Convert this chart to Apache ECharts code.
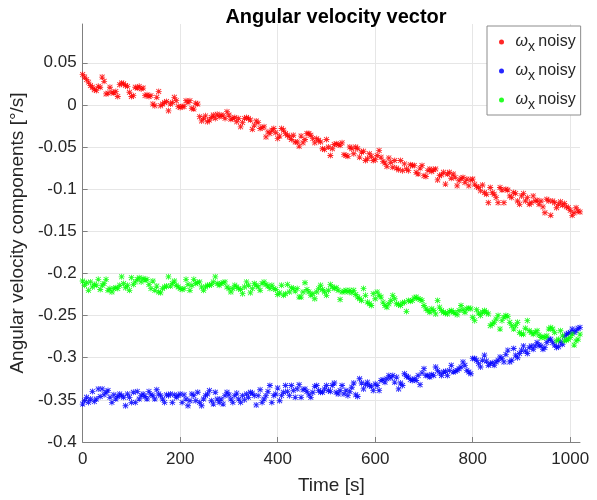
<!DOCTYPE html>
<html>
<head>
<meta charset="utf-8">
<script src="https://cdn.jsdelivr.net/npm/echarts@6/dist/echarts.min.js"></script>
<style>
  html, body { margin: 0; padding: 0; background: #fff; }
  #chart { width: 597px; height: 500px; }
</style>
</head>
<body>
<div id="chart"></div>
<script>
// Sample times [s]
const timeSec = [
  0,4,8,12,16,20,24,28,32,36,40,44,48,52,56,60,64,68,72,76,
  80,84,88,92,96,100,104,108,112,116,120,124,128,132,136,140,144,148,152,156,
  160,164,168,172,176,180,184,188,192,196,200,204,208,212,216,220,224,228,232,236,
  240,244,248,252,256,260,264,268,272,276,280,284,288,292,296,300,304,308,312,316,
  320,324,328,332,336,340,344,348,352,356,360,364,368,372,376,380,384,388,392,396,
  400,404,408,412,416,420,424,428,432,436,440,444,448,452,456,460,464,468,472,476,
  480,484,488,492,496,500,504,508,512,516,520,524,528,532,536,540,544,548,552,556,
  560,564,568,572,576,580,584,588,592,596,600,604,608,612,616,620,624,628,632,636,
  640,644,648,652,656,660,664,668,672,676,680,684,688,692,696,700,704,708,712,716,
  720,724,728,732,736,740,744,748,752,756,760,764,768,772,776,780,784,788,792,796,
  800,804,808,812,816,820,824,828,832,836,840,844,848,852,856,860,864,868,872,876,
  880,884,888,892,896,900,904,908,912,916,920,924,928,932,936,940,944,948,952,956,
  960,964,968,972,976,980,984,988,992,996,1000,1004,1008,1012,1016,1020
];

// Noisy angular velocity components [°/s]
const omegaRed = [
  0.036,0.033,0.030,0.027,0.023,0.021,0.018,0.017,0.022,0.021,
  0.033,0.028,0.013,0.014,0.021,0.015,0.014,0.016,0.010,0.024,
  0.026,0.025,0.023,0.022,0.015,0.010,0.011,0.021,0.020,0.022,
  0.019,0.020,0.011,0.012,0.010,0.011,0.001,-0.001,0.009,0.016,
  -0.001,0.001,0.003,0.004,-0.007,0.001,0.003,0.009,0.005,-0.002,
  -0.003,-0.002,-0.002,0.005,0.003,0.005,-0.004,-0.005,0.002,0.001,
  -0.014,-0.019,-0.016,-0.013,-0.020,-0.018,-0.015,-0.012,-0.016,-0.011,
  -0.014,-0.012,-0.013,-0.016,-0.008,-0.012,-0.017,-0.016,-0.015,-0.020,
  -0.016,-0.026,-0.021,-0.016,-0.015,-0.016,-0.018,-0.029,-0.024,-0.019,
  -0.021,-0.028,-0.027,-0.026,-0.038,-0.032,-0.034,-0.030,-0.028,-0.033,
  -0.040,-0.037,-0.028,-0.030,-0.034,-0.036,-0.038,-0.041,-0.036,-0.044,
  -0.044,-0.049,-0.037,-0.045,-0.041,-0.034,-0.034,-0.036,-0.040,-0.045,
  -0.040,-0.042,-0.044,-0.052,-0.053,-0.041,-0.050,-0.060,-0.052,-0.047,
  -0.046,-0.047,-0.048,-0.045,-0.059,-0.060,-0.061,-0.050,-0.052,-0.058,
  -0.050,-0.052,-0.062,-0.056,-0.055,-0.066,-0.064,-0.058,-0.061,-0.066,
  -0.065,-0.060,-0.054,-0.062,-0.067,-0.069,-0.073,-0.063,-0.068,-0.074,
  -0.066,-0.075,-0.077,-0.066,-0.078,-0.070,-0.076,-0.078,-0.071,-0.072,
  -0.072,-0.080,-0.082,-0.075,-0.072,-0.084,-0.085,-0.078,-0.076,-0.079,
  -0.077,-0.076,-0.089,-0.084,-0.083,-0.080,-0.094,-0.082,-0.080,-0.087,
  -0.082,-0.086,-0.096,-0.090,-0.087,-0.086,-0.092,-0.088,-0.096,-0.089,
  -0.088,-0.094,-0.097,-0.098,-0.102,-0.095,-0.104,-0.106,-0.116,-0.098,
  -0.104,-0.106,-0.110,-0.116,-0.098,-0.101,-0.116,-0.100,-0.101,-0.108,
  -0.110,-0.104,-0.105,-0.114,-0.118,-0.108,-0.105,-0.114,-0.110,-0.118,
  -0.116,-0.108,-0.114,-0.113,-0.118,-0.114,-0.121,-0.128,-0.112,-0.114,
  -0.131,-0.114,-0.116,-0.122,-0.118,-0.115,-0.119,-0.117,-0.121,-0.122,
  -0.125,-0.131,-0.128,-0.122,-0.126,-0.127
];

const omegaBlue = [
  -0.355,-0.351,-0.347,-0.353,-0.349,-0.340,-0.352,-0.349,-0.337,-0.346,
  -0.337,-0.344,-0.341,-0.339,-0.347,-0.353,-0.344,-0.349,-0.346,-0.343,
  -0.345,-0.347,-0.357,-0.343,-0.347,-0.353,-0.341,-0.353,-0.340,-0.349,
  -0.345,-0.343,-0.346,-0.349,-0.340,-0.344,-0.345,-0.349,-0.338,-0.343,
  -0.345,-0.349,-0.353,-0.344,-0.345,-0.343,-0.353,-0.344,-0.347,-0.345,
  -0.343,-0.353,-0.344,-0.349,-0.357,-0.351,-0.343,-0.345,-0.351,-0.341,
  -0.353,-0.357,-0.349,-0.345,-0.343,-0.339,-0.351,-0.355,-0.341,-0.349,
  -0.353,-0.349,-0.355,-0.345,-0.341,-0.344,-0.349,-0.353,-0.345,-0.342,
  -0.349,-0.353,-0.345,-0.350,-0.343,-0.347,-0.341,-0.342,-0.345,-0.356,
  -0.345,-0.338,-0.353,-0.349,-0.345,-0.340,-0.333,-0.353,-0.345,-0.343,
  -0.336,-0.351,-0.345,-0.341,-0.333,-0.340,-0.345,-0.333,-0.339,-0.347,
  -0.337,-0.332,-0.347,-0.338,-0.337,-0.340,-0.344,-0.347,-0.341,-0.334,
  -0.333,-0.339,-0.341,-0.341,-0.337,-0.333,-0.339,-0.340,-0.333,-0.330,
  -0.341,-0.343,-0.339,-0.333,-0.343,-0.339,-0.345,-0.340,-0.335,-0.330,
  -0.344,-0.346,-0.325,-0.330,-0.337,-0.332,-0.329,-0.333,-0.334,-0.339,
  -0.331,-0.333,-0.339,-0.327,-0.326,-0.329,-0.325,-0.321,-0.324,-0.321,
  -0.329,-0.323,-0.337,-0.330,-0.333,-0.319,-0.322,-0.323,-0.326,-0.327,
  -0.325,-0.327,-0.321,-0.332,-0.318,-0.313,-0.321,-0.321,-0.323,-0.320,
  -0.321,-0.311,-0.315,-0.318,-0.321,-0.317,-0.316,-0.321,-0.315,-0.309,
  -0.317,-0.316,-0.315,-0.313,-0.311,-0.305,-0.309,-0.315,-0.317,-0.319,
  -0.301,-0.301,-0.303,-0.307,-0.311,-0.303,-0.297,-0.304,-0.309,-0.307,
  -0.306,-0.309,-0.305,-0.303,-0.299,-0.301,-0.305,-0.296,-0.291,-0.305,
  -0.303,-0.289,-0.297,-0.300,-0.295,-0.291,-0.286,-0.292,-0.295,-0.288,
  -0.286,-0.290,-0.286,-0.282,-0.285,-0.286,-0.290,-0.288,-0.282,-0.278,
  -0.278,-0.282,-0.285,-0.288,-0.287,-0.281,-0.284,-0.275,-0.272,-0.271,
  -0.270,-0.266,-0.270,-0.268,-0.265,-0.264
];

const omegaGreen = [
  -0.209,-0.214,-0.211,-0.220,-0.210,-0.216,-0.213,-0.214,-0.207,-0.219,
  -0.214,-0.212,-0.207,-0.220,-0.218,-0.222,-0.218,-0.217,-0.218,-0.214,
  -0.204,-0.212,-0.217,-0.214,-0.220,-0.205,-0.213,-0.210,-0.207,-0.205,
  -0.210,-0.206,-0.208,-0.207,-0.213,-0.218,-0.209,-0.220,-0.215,-0.222,
  -0.223,-0.218,-0.216,-0.215,-0.204,-0.215,-0.212,-0.209,-0.214,-0.216,
  -0.218,-0.219,-0.218,-0.207,-0.213,-0.220,-0.214,-0.207,-0.212,-0.211,
  -0.210,-0.216,-0.220,-0.216,-0.214,-0.214,-0.213,-0.210,-0.204,-0.212,
  -0.214,-0.212,-0.211,-0.210,-0.216,-0.218,-0.222,-0.218,-0.214,-0.216,
  -0.218,-0.219,-0.224,-0.216,-0.210,-0.214,-0.223,-0.218,-0.212,-0.214,
  -0.216,-0.220,-0.212,-0.210,-0.213,-0.215,-0.218,-0.214,-0.218,-0.219,
  -0.225,-0.223,-0.214,-0.226,-0.224,-0.213,-0.222,-0.217,-0.218,-0.221,
  -0.218,-0.228,-0.228,-0.222,-0.211,-0.219,-0.222,-0.226,-0.224,-0.230,
  -0.222,-0.218,-0.214,-0.219,-0.222,-0.226,-0.220,-0.213,-0.216,-0.218,
  -0.217,-0.220,-0.231,-0.222,-0.221,-0.220,-0.222,-0.220,-0.223,-0.220,
  -0.225,-0.228,-0.230,-0.232,-0.218,-0.226,-0.234,-0.236,-0.238,-0.224,
  -0.230,-0.222,-0.226,-0.228,-0.234,-0.238,-0.240,-0.236,-0.232,-0.226,
  -0.230,-0.236,-0.237,-0.238,-0.235,-0.234,-0.245,-0.232,-0.233,-0.232,
  -0.229,-0.228,-0.230,-0.231,-0.232,-0.238,-0.242,-0.244,-0.246,-0.242,
  -0.244,-0.248,-0.232,-0.240,-0.244,-0.246,-0.247,-0.248,-0.245,-0.244,
  -0.246,-0.247,-0.249,-0.244,-0.238,-0.243,-0.246,-0.242,-0.241,-0.242,
  -0.252,-0.256,-0.243,-0.247,-0.250,-0.246,-0.244,-0.246,-0.248,-0.262,
  -0.260,-0.258,-0.254,-0.250,-0.266,-0.256,-0.252,-0.250,-0.251,-0.258,
  -0.262,-0.266,-0.262,-0.258,-0.270,-0.272,-0.272,-0.265,-0.256,-0.268,
  -0.270,-0.272,-0.270,-0.268,-0.273,-0.276,-0.275,-0.276,-0.274,-0.266,
  -0.264,-0.266,-0.270,-0.280,-0.278,-0.268,-0.274,-0.280,-0.279,-0.278,
  -0.276,-0.272,-0.285,-0.280,-0.278,-0.272
];

const seriesKeys = ['omega-red', 'omega-blue', 'omega-green'];
const seriesColors = ['#ff0000', '#0000ff', '#00ff00'];
const seriesValues = [omegaRed, omegaBlue, omegaGreen];

const xTicks = { min: 0, max: 1020, step: 200 };
const yTicks = { min: -0.4, max: 0.096, step: 0.05 };

// Eight-armed asterisk marker (plus and cross combined)
const asterisk = 'path://M4.3 0L5.7 0L5.7 10L4.3 10Z' +
  'M0 4.3L10 4.3L10 5.7L0 5.7Z' +
  'M1.45 0.46L9.54 8.55L8.55 9.54L0.46 1.45Z' +
  'M8.55 0.46L9.54 1.45L1.45 9.54L0.46 8.55Z';

const FONT = '"Liberation Sans", Arial, Helvetica, sans-serif';
const TEXT = '#262626';
const AXIS = '#808080';
const GRID = '#e6e6e6';

const plainNumber = (v) => String(Math.round(v * 1000) / 1000);

const chart = echarts.init(document.getElementById('chart'), null, { renderer: 'canvas' });

chart.setOption({
  animation: false,
  backgroundColor: '#ffffff',
  textStyle: { fontFamily: FONT },
  title: {
    text: 'Angular velocity vector',
    left: 331,
    textAlign: 'center',
    top: 2,
    textStyle: { fontFamily: FONT, fontSize: 20, fontWeight: 'bold', color: '#000' }
  },
  grid: { left: 82, right: 17, top: 24, bottom: 57, containLabel: false },
  legend: {
    orient: 'vertical',
    left: 487,
    top: 26,
    padding: [4, 5, 3, 12],
    itemGap: 5,
    itemWidth: 18,
    itemHeight: 5,
    icon: 'circle',
    backgroundColor: '#ffffff',
    borderColor: '#8c8c8c',
    borderWidth: 1,
    data: seriesKeys,
    formatter: () => '{w|ω}{s|x} {n|noisy}',
    textStyle: {
      fontFamily: FONT,
      color: TEXT,
      rich: {
        w: { fontFamily: FONT, fontStyle: 'italic', fontSize: 16, lineHeight: 20, color: TEXT },
        s: { fontFamily: FONT, fontSize: 14, lineHeight: 14, padding: [10, 0, 0, 0], color: TEXT },
        n: { fontFamily: FONT, fontSize: 16, lineHeight: 20, color: TEXT }
      }
    }
  },
  xAxis: {
    type: 'value',
    min: xTicks.min,
    max: xTicks.max,
    interval: xTicks.step,
    name: 'Time [s]',
    nameLocation: 'middle',
    nameGap: 34,
    nameTextStyle: { fontFamily: FONT, fontSize: 19, color: TEXT },
    axisLine: { show: true, onZero: false, lineStyle: { color: AXIS, width: 1 } },
    axisTick: { show: true, inside: true, length: 5, lineStyle: { color: AXIS } },
    axisLabel: { fontFamily: FONT, fontSize: 17, color: TEXT, margin: 9, showMaxLabel: false, formatter: plainNumber },
    splitLine: { show: true, showMaxLine: false, lineStyle: { color: GRID, width: 1 } }
  },
  yAxis: {
    type: 'value',
    min: yTicks.min,
    max: yTicks.max,
    interval: yTicks.step,
    name: 'Angular velocity components [°/s]',
    nameLocation: 'middle',
    nameGap: 52,
    nameTextStyle: { fontFamily: FONT, fontSize: 19, color: TEXT },
    axisLine: { show: true, onZero: false, lineStyle: { color: AXIS, width: 1 } },
    axisTick: { show: true, inside: true, length: 5, lineStyle: { color: AXIS } },
    axisLabel: { fontFamily: FONT, fontSize: 17, color: TEXT, margin: 6, showMaxLabel: false, formatter: plainNumber },
    splitLine: { show: true, showMaxLine: false, lineStyle: { color: GRID, width: 1 } }
  },
  series: seriesKeys.map((key, k) => ({
    name: key,
    type: 'scatter',
    symbol: asterisk,
    symbolSize: 6,
    itemStyle: { color: seriesColors[k], opacity: 0.85 },
    emphasis: { disabled: true },
    data: timeSec.map((t, i) => [t, seriesValues[k][i]])
  }))
});
</script>
</body>
</html>
